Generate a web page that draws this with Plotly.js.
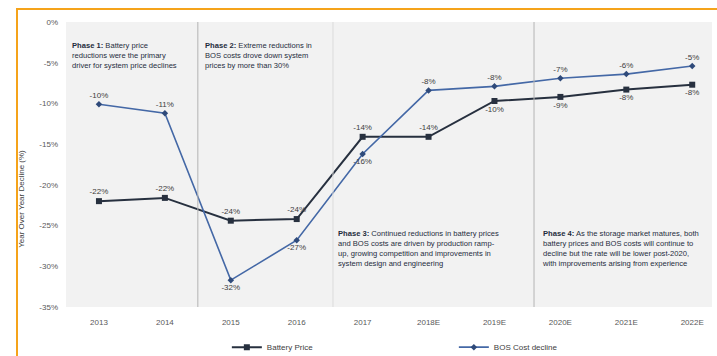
<!DOCTYPE html>
<html>
<head>
<meta charset="utf-8">
<script src="https://cdn.plot.ly/plotly-3.0.1.min.js"></script>
<style>
  html, body { margin: 0; padding: 0; background: #ffffff; overflow: hidden; }
  #wrap { position: relative; width: 717px; height: 356px; }
  #frame { position: absolute; left: 16px; top: 8px; width: 760px; height: 400px;
           border: 2px solid #f5a31a; box-sizing: border-box; pointer-events: none; z-index: 5; }
  #chart { position: absolute; left: 0; top: 0; width: 717px; height: 356px; }
</style>
</head>
<body>
<div id="wrap">
  <div id="chart"></div>
  <div id="frame"></div>
</div>
<script>
// ---- data ----
var years = ['2013', '2014', '2015', '2016', '2017', '2018E', '2019E', '2020E', '2021E', '2022E'];
var batteryPrice = [-22, -21.6, -24.4, -24.2, -14.1, -14.1, -9.7, -9.2, -8.3, -7.7];
var bosCostDecline = [-10.1, -11.2, -31.7, -26.8, -16.2, -8.4, -7.9, -6.9, -6.4, -5.4];
var yTickVals = [0, -5, -10, -15, -20, -25, -30, -35];
var yTickText = ['0%', '-5%', '-10%', '-15%', '-20%', '-25%', '-30%', '-35%'];
var seriesNames = ['Battery Price', 'BOS Cost decline'];

var batteryLabelPos = ['top center', 'top center', 'top center', 'top center', 'top center', 'top center',
                       'bottom center', 'bottom center', 'bottom center', 'bottom center'];
var bosLabelPos = ['top center', 'top center', 'bottom center', 'bottom center', 'bottom center',
                   'top center', 'top center', 'top center', 'top center', 'top center'];

function pct(v) { return Math.round(v) + '%'; }

var FONT = '"Liberation Sans", Arial, sans-serif';

var traces = [
  {
    x: years, y: batteryPrice, name: seriesNames[0], type: 'scatter', mode: 'lines+markers+text',
    line: { color: '#27303f', width: 2 },
    marker: { symbol: 'square', size: 6, color: '#27303f' },
    text: batteryPrice.map(pct), textposition: batteryLabelPos,
    textfont: { family: FONT, size: 8, color: '#404040' },
    cliponaxis: false
  },
  {
    x: years, y: bosCostDecline, name: seriesNames[1], type: 'scatter', mode: 'lines+markers+text',
    line: { color: '#4468a6', width: 1.6 },
    marker: { symbol: 'diamond', size: 5, color: '#2f4a7a' },
    text: bosCostDecline.map(pct), textposition: bosLabelPos,
    textfont: { family: FONT, size: 8, color: '#404040' },
    cliponaxis: false
  }
];

var phaseFont = { family: FONT, size: 7.6, color: '#1f2d3d' };
function phaseNote(x, y, html) {
  return { xref: 'paper', yref: 'paper', x: x, y: y, xanchor: 'left', yanchor: 'top',
           align: 'left', showarrow: false, text: html, font: phaseFont };
}

var layout = {
  width: 717, height: 356,
  margin: { l: 66, r: 5, t: 22, b: 49, autoexpand: false },
  paper_bgcolor: '#ffffff',
  plot_bgcolor: '#f2f2f2',
  showlegend: true,
  legend: {
    orientation: 'h', x: 0.249, xanchor: 'left', y: -0.09, yanchor: 'top',
    font: { family: FONT, size: 8, color: '#404040' },
    entrywidth: 182, itemwidth: 30, bgcolor: 'rgba(0,0,0,0)'
  },
  xaxis: {
    type: 'category', range: [-0.5, 9.3], showgrid: false, zeroline: false, showline: false,
    ticks: '', tickfont: { family: FONT, size: 8, color: '#595959' }, ticklabelstandoff: 9,
    fixedrange: true, automargin: false
  },
  yaxis: {
    range: [-35, 0], tickvals: yTickVals, ticktext: yTickText, showgrid: false, zeroline: false,
    showline: false, ticks: '', tickfont: { family: FONT, size: 8, color: '#595959' },
    ticklabelstandoff: 7, fixedrange: true, automargin: false
  },
  shapes: [
    { type: 'line', xref: 'x', yref: 'paper', x0: 1.5, x1: 1.5, y0: 0, y1: 1, line: { color: '#b4b4b4', width: 1 } },
    { type: 'line', xref: 'x', yref: 'paper', x0: 3.55, x1: 3.55, y0: 0, y1: 1, line: { color: '#dcdcdc', width: 1 } },
    { type: 'line', xref: 'x', yref: 'paper', x0: 6.6, x1: 6.6, y0: 0, y1: 1, line: { color: '#b4b4b4', width: 1 } }
  ],
  annotations: [
    { xref: 'paper', yref: 'paper', x: -0.068, y: 0.38, xanchor: 'center', yanchor: 'middle',
      textangle: -90, showarrow: false, text: 'Year Over Year Decline (%)',
      font: { family: FONT, size: 8, color: '#404040' } },
    phaseNote(0.006, 0.94, '<b>Phase 1:</b> Battery price<br>reductions were the primary<br>driver for system price declines'),
    phaseNote(0.212, 0.94, '<b>Phase 2:</b> Extreme reductions in<br>BOS costs drove down system<br>prices by more than 30%'),
    phaseNote(0.418, 0.28, '<b>Phase 3:</b> Continued reductions in battery prices<br>and BOS costs are driven by production ramp-<br>up, growing competition and improvements in<br>system design and engineering'),
    phaseNote(0.733, 0.28, '<b>Phase 4:</b> As the storage market matures, both<br>battery prices and BOS costs will continue to<br>decline but the rate will be lower post-2020,<br>with improvements arising from experience')
  ]
};

Plotly.newPlot('chart', traces, layout, { staticPlot: true, displayModeBar: false });
</script>
</body>
</html>
